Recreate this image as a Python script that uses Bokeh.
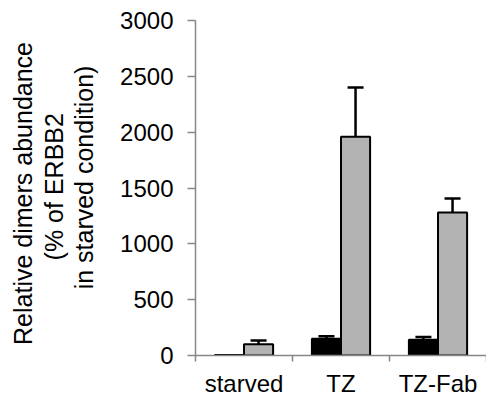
import math
from bokeh.plotting import figure
from bokeh.layouts import row
from bokeh.models import ColumnDataSource, Range1d, FixedTicker, Whisker, TeeHead
from bokeh.core.properties import value
from bokeh.embed import file_html
from bokeh.resources import INLINE

categories = ["starved", "TZ", "TZ-Fab"]
series_dark = [5, 150, 140]
series_dark_err = [0, 22, 25]
series_light = [100, 1960, 1280]
series_light_err = [35, 440, 125]
y_ticks = [0, 500, 1000, 1500, 2000, 2500, 3000]
y_title_lines = ["Relative dimers abundance", "(% of ERBB2", "in starved condition)"]

FONT = "Liberation Sans"
BAR_W = 0.3
TOTAL_W, TOTAL_H = 486, 399
TITLE_W = 100

# ---- left strip holding the three-line y title (pixel-like coordinates) ----
t = figure(width=TITLE_W, height=TOTAL_H, output_backend="svg", toolbar_location=None,
           x_range=Range1d(0, TITLE_W), y_range=Range1d(0, TOTAL_H),
           x_axis_location=None, y_axis_location=None,
           min_border=0, min_border_left=0, min_border_right=0,
           min_border_top=0, min_border_bottom=0)
t.outline_line_color = None
t.xgrid.visible = False
t.ygrid.visible = False
title_x = [22, 53, 83]
title_y = [TOTAL_H - 206, TOTAL_H - 198, TOTAL_H - 187]
t.text(x=title_x, y=title_y, text=y_title_lines, angle=math.pi / 2,
       text_align="center", text_baseline="middle",
       text_font=value(FONT), text_font_size="25px", text_color="black")

# ---- main chart ----
p = figure(width=TOTAL_W - TITLE_W, height=TOTAL_H, output_backend="svg", toolbar_location=None,
           x_range=Range1d(0, 3), y_range=Range1d(0, 3000),
           min_border_left=95, min_border_right=0, min_border_top=20, min_border_bottom=10)
p.outline_line_color = None
p.xgrid.visible = False
p.ygrid.visible = False
p.background_fill_color = "white"
p.border_fill_color = "white"

xs_dark = [i + 0.5 - BAR_W / 2 for i in range(len(categories))]
xs_light = [i + 0.5 + BAR_W / 2 for i in range(len(categories))]

p.vbar(x=xs_dark, top=series_dark, width=BAR_W, bottom=0,
       fill_color="black", line_color="black", line_width=2)
p.vbar(x=xs_light, top=series_light, width=BAR_W, bottom=0,
       fill_color="#b3b3b3", line_color="black", line_width=2)

ex, eb, eu = [], [], []
for x, v, e in list(zip(xs_dark, series_dark, series_dark_err)) + list(zip(xs_light, series_light, series_light_err)):
    if e > 0:
        ex.append(x); eb.append(v); eu.append(v + e)
esrc = ColumnDataSource(dict(x=ex, base=eb, upper=eu))
w = Whisker(source=esrc, base="x", lower="base", upper="upper", dimension="height",
            line_color="black", line_width=2.5,
            upper_head=TeeHead(size=16, line_width=2.5, line_color="black"), lower_head=None)
p.add_layout(w)

# x axis
xa = p.xaxis[0]
xa.ticker = FixedTicker(ticks=[i + 0.5 for i in range(len(categories))],
                        minor_ticks=list(range(len(categories) + 1)))
xa.major_label_overrides = {i + 0.5: c for i, c in enumerate(categories)}
xa.major_tick_line_color = None
xa.major_tick_out = 6
xa.major_tick_in = 0
xa.minor_tick_out = 6
xa.minor_tick_in = 0
xa.minor_tick_line_color = "#878787"
xa.minor_tick_line_width = 1.5
xa.axis_line_color = "#878787"
xa.axis_line_width = 1.5
xa.major_label_text_font = FONT
xa.major_label_text_font_size = "24px"
xa.major_label_text_color = "black"
xa.major_label_standoff = 8

# y axis
ya = p.yaxis[0]
ya.ticker = FixedTicker(ticks=y_ticks, minor_ticks=[])
ya.major_tick_out = 8
ya.major_tick_in = 0
ya.major_tick_line_color = "#878787"
ya.major_tick_line_width = 1.5
ya.axis_line_color = "#878787"
ya.axis_line_width = 1.5
ya.major_label_text_font = FONT
ya.major_label_text_font_size = "24px"
ya.major_label_text_color = "black"
ya.major_label_standoff = 14

layout = row(t, p, spacing=0)
open("out.html", "w").write(file_html(layout, INLINE))
